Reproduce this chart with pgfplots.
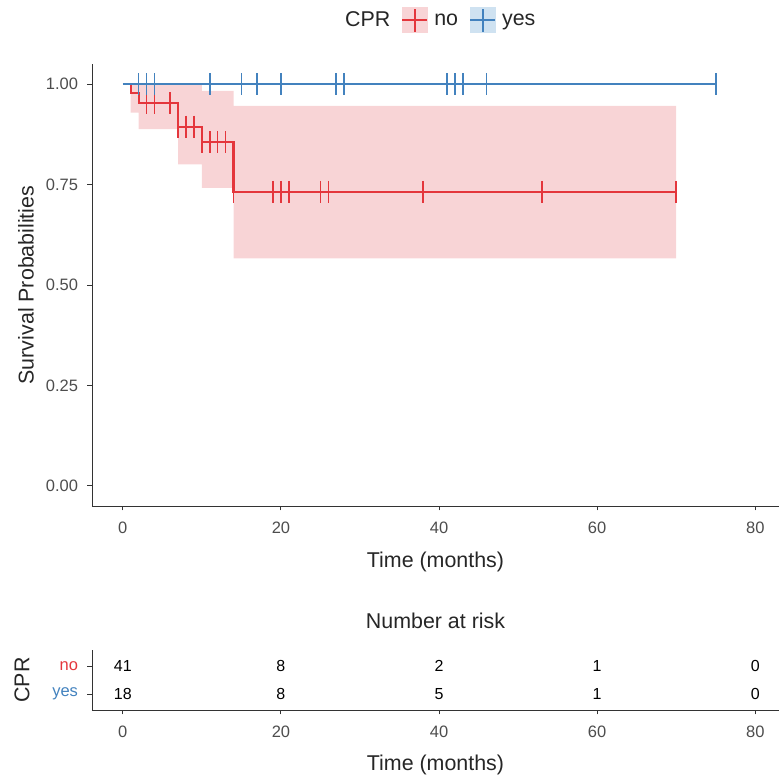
\documentclass[border=0pt]{standalone}
\usepackage{pgfplots}
\pgfplotsset{compat=1.18}
\usepackage{pgfplotstable}
\usepackage{fontspec}
\setmainfont{Liberation Sans}
\definecolor{cprred}{RGB}{228,54,60}
\definecolor{cprblue}{RGB}{67,130,190}
\definecolor{redfill}{RGB}{248,212,214}
\definecolor{bluefill}{RGB}{207,226,241}
\definecolor{txtgray}{RGB}{77,77,77}
\definecolor{axgray}{RGB}{51,51,51}

\pgfplotstableread{
x y label
0 2 41
20 2 8
40 2 2
60 2 1
80 2 0
0 1 18
20 1 8
40 1 5
60 1 1
80 1 0
}\risktable

\pgfplotsset{
  kmstyle/.style={
    scale only axis, width=687pt,
    xmin=-3.9, xmax=83,
    axis lines*=left,
    axis line style={axgray, line width=0.9pt},
    xtick={0,20,40,60,80},
    tick style={axgray, line width=0.9pt},
    tick align=outside, major tick length=4.5pt,
    ticklabel style={font=\fontsize{16.5}{19}\selectfont, text=txtgray},
    yticklabel style={xshift=-6pt},
    xticklabel style={yshift=-8pt},
    /pgf/number format/assume math mode=true,
    label style={font=\fontsize{21.4}{25}\selectfont, text=black!85},
  }
}

\begin{document}
\begin{tikzpicture}[x=1pt,y=1pt]
\path[use as bounding box] (0,0) rectangle (779,778);

\begin{axis}[kmstyle,
  at={(92pt,272pt)}, anchor=south west, height=442pt,
  ymin=-0.05, ymax=1.05,
  ytick={0,0.25,0.5,0.75,1},
  yticklabel style={/pgf/number format/.cd, fixed, fixed zerofill, precision=2},
  xlabel={Time (months)}, ylabel={Survival Probabilities},
  xlabel style={at={(axis description cs:0.5,-0.127)}, anchor=center},
  ylabel style={at={(axis description cs:-0.096,0.5)}, anchor=center},
  legend style={draw=none, fill=none, legend columns=-1,
    at={(axis description cs:0.355,1.0995)}, anchor=west,
    font=\fontsize{21.4}{25}\selectfont, text=black!85,
    /tikz/every odd column/.append style={column sep=4pt},
    /tikz/every even column/.append style={column sep=9pt}},
]
% legend
\addlegendimage{empty legend}
\addlegendentry{CPR}
\addlegendimage{legend image code/.code={
  \fill[redfill] (0pt,-12.5pt) rectangle (25pt,12.5pt);
  \draw[cprred, line width=2pt] (0pt,0pt) -- (25pt,0pt) (12.5pt,-11.5pt) -- (12.5pt,11.5pt);}}
\addlegendentry{no}
\addlegendimage{legend image code/.code={
  \fill[bluefill] (0pt,-12.5pt) rectangle (25pt,12.5pt);
  \draw[cprblue, line width=2pt] (0pt,0pt) -- (25pt,0pt) (12.5pt,-11.5pt) -- (12.5pt,11.5pt);}}
\addlegendentry{yes}

% confidence band (no)
\addplot[fill=redfill, draw=none, forget plot] coordinates {
 (0,1) (10,1) (10,0.983) (14,0.983) (14,0.946) (70,0.946)
 (70,0.566) (14,0.566) (14,0.742) (10,0.742) (10,0.800) (7,0.800)
 (7,0.888) (2,0.888) (2,0.929) (1,0.929) (1,1) (0,1)} -- cycle;

% KM curve no
\addplot[cprred, line width=2.2pt, const plot, forget plot] coordinates {
 (0,1) (1,0.977) (2,0.952) (7,0.894) (10,0.855) (14,0.732) (70,0.732)};
\addplot[cprred, only marks, mark=|, mark size=11pt, mark options={line width=1.6pt}, forget plot] coordinates {
 (3,0.952) (4,0.952) (6,0.952) (7,0.894) (8,0.894) (9,0.894)
 (10,0.855) (11,0.855) (12,0.855) (13,0.855) (14,0.732)
 (19,0.732) (20,0.732) (21,0.732) (25,0.732) (26,0.732)
 (38,0.732) (53,0.732) (70,0.732)};

% KM curve yes
\addplot[cprblue, line width=2.2pt, const plot, forget plot] coordinates {
 (0,1) (75,1)};
\addplot[cprblue, only marks, mark=|, mark size=11pt, mark options={line width=1.6pt}, forget plot] coordinates {
 (2,1) (3,1) (4,1) (11,1) (15,1) (17,1) (20,1) (27,1) (28,1)
 (41,1) (42,1) (43,1) (46,1) (75,1)};
\end{axis}

\begin{axis}[kmstyle,
  at={(92pt,68pt)}, anchor=south west, height=60pt,
  ymin=0.43, ymax=2.57,
  ytick={1,2}, yticklabels={\textcolor{cprblue}{yes},\textcolor{cprred}{no}},
  title={Number at risk},
  title style={at={(axis description cs:0.5,1.383)}, anchor=center,
    font=\fontsize{21.4}{25}\selectfont, text=black!85},
  xlabel={Time (months)}, ylabel={CPR},
  xlabel style={at={(axis description cs:0.5,-0.92)}, anchor=center},
  ylabel style={at={(axis description cs:-0.102,0.5)}, anchor=center},
]
\addplot[draw=none, mark=none, nodes near coords, point meta=explicit symbolic,
  nodes near coords style={anchor=center, font=\fontsize{16}{19}\selectfont, text=black}]
  table[x=x, y=y, meta=label] {\risktable};
\end{axis}
\end{tikzpicture}
\end{document}
